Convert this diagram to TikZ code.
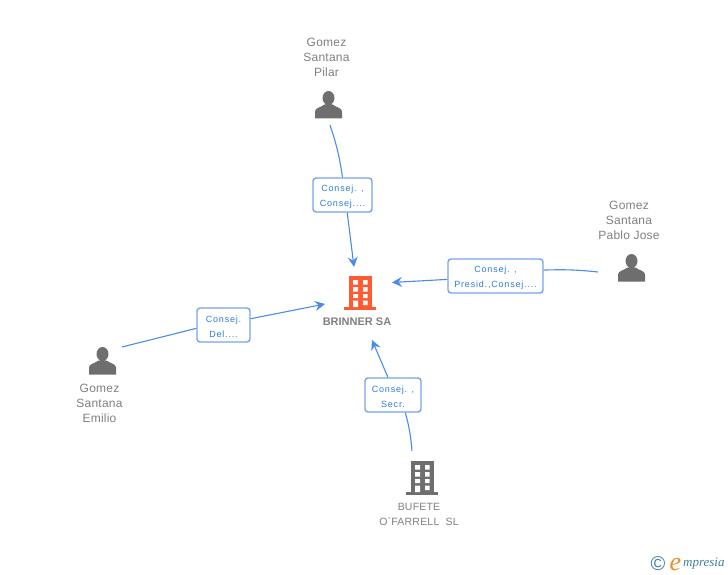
\documentclass[tikz,border=0pt]{standalone}
\usepackage{fontspec}
\setmainfont{Liberation Sans}
\newfontfamily\rolefont[LetterSpace=9]{Liberation Sans}
\newfontfamily\namefont[LetterSpace=2]{Liberation Sans}
\newfontfamily\logofont{Liberation Serif}
\usetikzlibrary{arrows.meta}
\definecolor{linkblue}{HTML}{4A8CE6}
\definecolor{roleborder}{HTML}{76A5EA}
\definecolor{roletext}{HTML}{2F7BE0}
\definecolor{nametext}{HTML}{808080}
\definecolor{icongray}{HTML}{6E6E6E}
\definecolor{brinnerred}{HTML}{FF5A30}
\definecolor{logoteal}{HTML}{3F7F95}
\definecolor{logoorange}{HTML}{F08A24}
\newcommand{\roleTop}{\rule{0pt}{10pt}}
\tikzset{
    link/.style={draw=linkblue, line width=1.1pt},
    linkarrow/.style={link, -{Stealth[length=10pt, width=10pt, inset=3.5pt]}},
    role/.style={draw=roleborder, line width=1.4pt, rounded corners=3pt, fill=white, text=roletext, align=center, inner sep=0pt, font=\rolefont\fontsize{9}{15}\selectfont},
    holder/.style={text=nametext, align=center, inner sep=0pt, font=\namefont\fontsize{12}{15}\selectfont},
    person/.style={minimum width=28pt, minimum height=28pt, inner sep=0pt, path picture={
        \fill[icongray, shift={(path picture bounding box.center)}]
            (0,-6.5) ellipse (6 and 7)
            (-13.5,14) -- (-13.5,7) .. controls (-13.5,3.5) and (-8,3) .. (-4,0) -- (4,0) .. controls (8,3) and (13.5,3.5) .. (13.5,7) -- (13.5,14) -- cycle;
    }},
    building/.style={minimum width=33pt, minimum height=35pt, inner sep=0pt, path picture={
        \begin{scope}[shift={(path picture bounding box.center)}]
            \fill[#1] (-11,-17) rectangle (11.5,14);
            \fill[#1] (-16,14) rectangle (16,17);
            \fill[white] (-7,-13) rectangle (-2,-8.5) (3,-13) rectangle (7.5,-8.5);
            \fill[white] (-7,-6) rectangle (-2,-1.5) (3,-6) rectangle (7.5,-1.5);
            \fill[white] (-7,1) rectangle (-2,5) (3,1) rectangle (7.5,5);
            \fill[white] (-7,7.5) rectangle (-2,14) (3,7.5) rectangle (7.5,12);
        \end{scope}
    }}
}
\begin{document}
\begin{tikzpicture}[x=1pt, y=-1pt]
    \useasboundingbox (0,0) rectangle (728,575);

    % icons
    \node[building=brinnerred] (brinner) at (360,293) {};
    \node[building=icongray] (bufete) at (422,478) {};
    \node[person] (pilar) at (328.5,104.5) {};
    \node[person] (pablo) at (631.5,267.5) {};
    \node[person] (emilio) at (102.5,360.5) {};

    % texts
    \node[text=nametext, inner sep=0pt, font=\bfseries\fontsize{11}{13}\selectfont] (brinnerName) at (357,321.5) {BRINNER SA};
    \node[holder] (pilarName) at (326.5,57) {Gomez\\Santana\\Pilar};
    \node[holder] (pabloName) at (629,220) {Gomez\\Santana\\Pablo Jose};
    \node[holder] (emilioName) at (99.5,403) {Gomez\\Santana\\Emilio};
    \node[holder, font=\namefont\fontsize{10.5}{15}\selectfont] (bufeteName) at (419,514.5) {BUFETE\\O`FARRELL\ \ SL};

    % role boxes
    \node[role, minimum width=59pt, minimum height=34pt] (pilarRole) at (342.5,195) {\roleTop Consej. ,\\Consej....};
    \node[role, minimum width=95pt, minimum height=34pt] (pabloRole) at (495.5,276) {\roleTop Consej. ,\\Presid.,Consej....};
    \node[role, minimum width=53pt, minimum height=34pt] (emilioRole) at (223.5,325) {\roleTop Consej.\\Del....};
    \node[role, minimum width=56pt, minimum height=34pt] (bufeteRole) at (393,395) {\roleTop Consej. ,\\Secr.};

    % free ends of the connectors
    \coordinate (pilarFrom) at (330,125);
    \coordinate (pilarTo) at (354,267);
    \coordinate (pabloFrom) at (598,272);
    \coordinate (pabloTo) at (392,282.5);
    \coordinate (emilioFrom) at (122,347);
    \coordinate (emilioTo) at (325,304);
    \coordinate (bufeteFrom) at (412,451);
    \coordinate (bufeteTo) at (372,340);

    % connectors
    \draw[link] (pilarFrom) to[bend left=5] (pilarRole.north);
    \draw[linkarrow] (pilarRole.285) -- (pilarTo);
    \draw[link] (pabloFrom) to[bend right=4] (pabloRole.7);
    \draw[linkarrow] (pabloRole.184) -- (pabloTo);
    \draw[link] (emilioFrom) -- (emilioRole.187);
    \draw[linkarrow] (emilioRole.13) -- (emilioTo);
    \draw[link] (bufeteFrom) to[bend right=5] (bufeteRole.-55);
    \draw[linkarrow] (bufeteRole.106) -- (bufeteTo);

    % logo
    \node[text=logoteal, inner sep=0pt, font=\fontsize{20}{20}\selectfont] (logoMark) at (658,563.5) {©};
    \node[text=logoorange, inner sep=0pt, font=\logofont\itshape\fontsize{26}{26}\selectfont] (logoE) at (675.5,564) {e};
    \node[text=logoteal, inner sep=0pt, anchor=west, font=\logofont\itshape\fontsize{13}{13}\selectfont] (logoText) at (683,564) {mpresia};
\end{tikzpicture}
\end{document}
